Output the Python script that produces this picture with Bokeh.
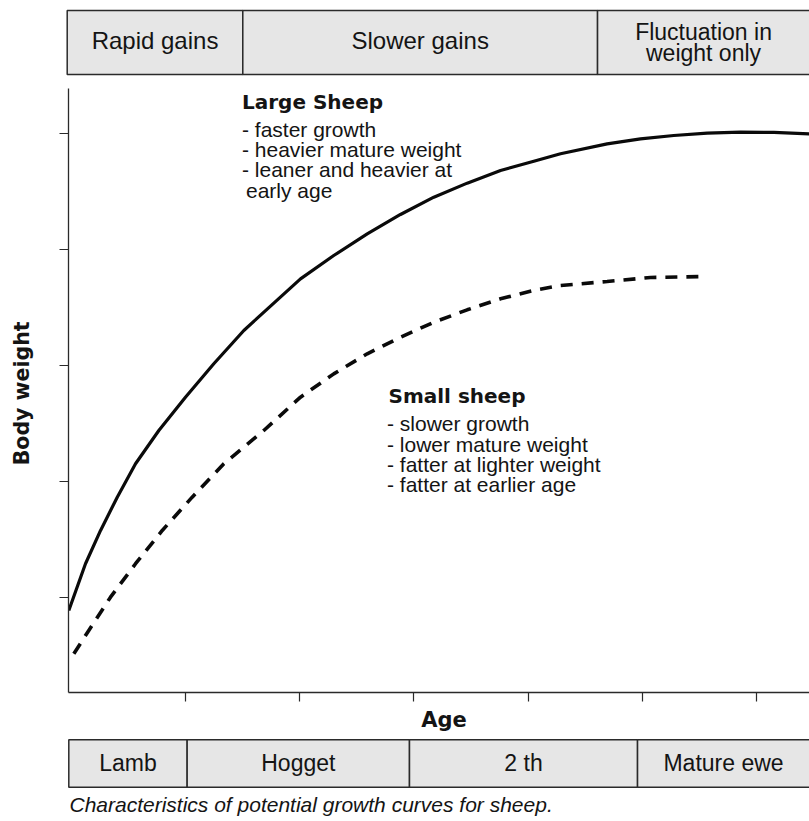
import math
from bokeh.plotting import figure
from bokeh.layouts import column, row
from bokeh.models import Range1d, FixedTicker, Label
from bokeh.embed import file_html
from bokeh.resources import INLINE

# ---- data ----
age_large = [-0.021, 0.125, 0.257, 0.403, 0.563, 0.767, 1.000, 1.248, 1.511,
             2.007, 2.298, 2.591, 2.882, 3.174, 3.466, 3.758, 4.049, 4.283,
             4.691, 4.983, 5.274, 5.567, 5.858, 6.150, 6.470]
weight_large = [0.888, 1.291, 1.578, 1.865, 2.153, 2.440, 2.727, 3.015, 3.302,
                3.747, 3.948, 4.135, 4.302, 4.451, 4.572, 4.681, 4.761, 4.825,
                4.911, 4.954, 4.983, 5.003, 5.011, 5.009, 4.997]

age_small = [0.023, 0.154, 0.344, 0.563, 0.797, 1.059, 1.336, 1.686, 2.007,
             2.298, 2.591, 2.882, 3.174, 3.466, 3.758, 4.049, 4.283, 4.691,
             5.070, 5.552]
weight_small = [0.515, 0.716, 1.003, 1.291, 1.578, 1.865, 2.153, 2.440, 2.727,
                2.928, 3.101, 3.244, 3.373, 3.480, 3.575, 3.647, 3.690, 3.724,
                3.759, 3.767]

x_ticks = [1, 2, 3, 4, 5, 6]
y_ticks = [1, 2, 3, 4, 5]

growth_phases = ["Rapid gains", "Slower gains", "Fluctuation in\nweight only"]
phase_bounds = [-0.035, 1.502, 4.607, 6.470]

life_stages = ["Lamb", "Hogget", "2 th", "Mature ewe"]
stage_bounds = [-0.021, 1.015, 2.961, 4.957, 6.470]

large_title = "Large Sheep"
large_notes = ["- faster growth", "- heavier mature weight",
               "- leaner and heavier at", "early age"]
small_title = "Small sheep"
small_notes = ["- slower growth", "- lower mature weight",
               "- fatter at lighter weight", "- fatter at earlier age"]

x_title = "Age"
y_title = "Body weight"
caption = "Characteristics of potential growth curves for sheep."

# ---- page geometry: one shared data scale for all panels ----
X0_PX, X_PX = 70.7, 114.25   # page x of age 0, pixels per age unit
Y1_PX, Y_PX = 597.0, 116.0   # page y of weight 1, pixels per weight unit
PAGE_W, PAGE_H = 809, 821


def xr(a, b):
    return Range1d((a - X0_PX) / X_PX, (b - X0_PX) / X_PX)


def yr(top, bot):
    return Range1d(1 + (Y1_PX - bot) / Y_PX, 1 + (Y1_PX - top) / Y_PX)


INK = "#141414"
REG = "Liberation Sans"
BOLD = "DejaVu Sans"
BAND = "#e6e6e6"
EDGE = "#2a2a2a"


def blank(w, h, xrange, yrange):
    f = figure(width=w, height=h, x_range=xrange, y_range=yrange,
               x_axis_type=None, y_axis_type=None,
               output_backend="svg", toolbar_location=None,
               min_border_left=0, min_border_right=0,
               min_border_top=0, min_border_bottom=0)
    f.grid.visible = False
    f.outline_line_color = None
    f.background_fill_color = "white"
    f.border_fill_color = "white"
    return f


def lab(f, x, y, text, font=REG, size=21, style="normal", align="left", rotated=False):
    # baseline correction for the renderer (text is drawn ~0.38 em low)
    shift = 0.38 * size
    if rotated:
        x = x - shift / X_PX
    else:
        y = y + shift / Y_PX
    f.add_layout(Label(x=x, y=y, text=text, text_font=font,
                       text_font_size=f"{size}px",
                       text_font_style=style, text_align=align,
                       text_baseline="alphabetic", text_color=INK,
                       angle=math.pi / 2 if rotated else 0.0))


MAIN_TOP, MAIN_BOT, MAIN_LEFT = 88, 692, 68
MID_BOT = 708
MID_H = MID_BOT - MAIN_TOP

# ---- top band: growth phases ----
top = blank(PAGE_W, MAIN_TOP, xr(0, PAGE_W), yr(0, MAIN_TOP))
top.quad(left=phase_bounds[:-1], right=phase_bounds[1:],
         top=[6.060] * len(growth_phases), bottom=[5.509] * len(growth_phases),
         fill_color=BAND, line_color=EDGE, line_width=1.5)
x_end = (PAGE_W - X0_PX) / X_PX
for i, name in enumerate(growth_phases):
    cx = (phase_bounds[i] + min(phase_bounds[i + 1], x_end)) / 2
    lines = name.split("\n")
    if len(lines) == 1:
        lab(top, cx, 5.722, lines[0], size=24, align="center")
    else:
        lab(top, cx, 5.802, lines[0], size=23, align="center")
        lab(top, cx, 5.618, lines[1], size=23, align="center")

# ---- left strip: y title ----
left_w = 50
left = blank(left_w, MID_H, xr(0, left_w), yr(MAIN_TOP, MID_BOT))
lab(left, (29 - X0_PX) / X_PX, 2.690, y_title, font=BOLD, size=20.5,
    style="bold", align="center", rotated=True)

# ---- main plot ----
p = figure(width=PAGE_W - left_w, height=MID_H,
           x_range=xr(MAIN_LEFT, PAGE_W), y_range=yr(MAIN_TOP, MAIN_BOT),
           output_backend="svg", toolbar_location=None,
           min_border_left=MAIN_LEFT - left_w, min_border_right=0,
           min_border_top=0, min_border_bottom=MID_BOT - MAIN_BOT)
p.grid.visible = False
p.outline_line_color = None
p.background_fill_color = "white"
p.border_fill_color = "white"

for ax, ticks in ((p.xaxis, x_ticks), (p.yaxis, y_ticks)):
    ax.ticker = FixedTicker(ticks=ticks, minor_ticks=[])
    ax.axis_line_color = EDGE
    ax.axis_line_width = 1.3
    ax.major_tick_line_color = EDGE
    ax.major_tick_line_width = 1.2
    ax.major_tick_in = 0
    ax.major_tick_out = 9
    ax.minor_tick_line_color = None
    ax.major_label_text_font_size = "1px"
    ax.major_label_text_color = None
    ax.major_label_standoff = 0

p.line(age_large, weight_large, line_color="#0a0a0a", line_width=3.2)
p.line(age_small, weight_small, line_color="#0a0a0a", line_width=3.6,
       line_dash="12 9")

lab(p, 1.495, 5.204, large_title, font=BOLD, size=20, style="bold")
large_y = [4.968, 4.793, 4.618, 4.443]
for t, yy in zip(large_notes, large_y):
    lab(p, 1.495 if t.startswith("-") else 1.530, yy, t)

lab(p, 2.777, 2.670, small_title, font=BOLD, size=20, style="bold")
small_y = [2.427, 2.254, 2.082, 1.909]
for t, yy in zip(small_notes, small_y):
    lab(p, 2.764, yy, t)

# ---- bottom band: x title, life stages, caption ----
bot = blank(PAGE_W, PAGE_H - MID_BOT, xr(0, PAGE_W), yr(MID_BOT, PAGE_H))
lab(bot, 3.263, -0.129, x_title, font=BOLD, size=21, style="bold", align="center")
bot.quad(left=stage_bounds[:-1], right=stage_bounds[1:],
         top=[-0.227] * len(life_stages), bottom=[-0.635] * len(life_stages),
         fill_color=BAND, line_color=EDGE, line_width=1.5)
for i, name in enumerate(life_stages):
    cx = (stage_bounds[i] + min(stage_bounds[i + 1], x_end)) / 2
    lab(bot, cx, -0.506, name, size=23, align="center")
lab(bot, -0.015, -0.853, caption, size=21, style="italic")

layout = column(top, row(left, p), bot)
open("out.html", "w").write(file_html(layout, INLINE))
